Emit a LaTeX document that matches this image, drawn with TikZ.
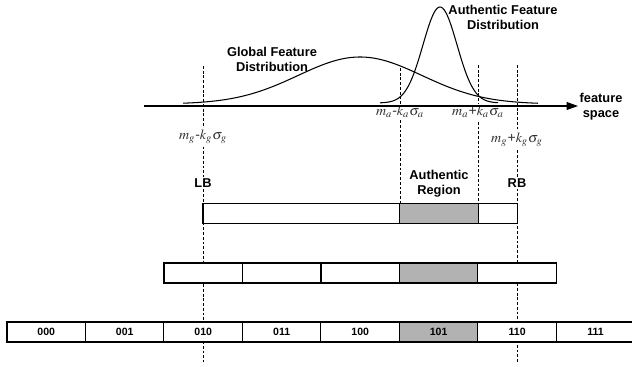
\documentclass[tikz,border=0pt]{standalone}
\usepackage{mathptmx}
\usepackage{fontspec}
\setmainfont{Liberation Sans}
\usetikzlibrary{positioning,arrows.meta}
\tikzset{
    cell/.style={
        rectangle, draw, line width=0.6pt,
        minimum width=1.57cm, minimum height=0.4cm,
        inner sep=0pt, outer sep=0pt, fill=white,
        font=\bfseries\fontsize{6}{7}\selectfont
    },
    auth/.style={
        cell, fill=black!30
    },
    lbl/.style={
        align=center, inner sep=1pt,
        font=\bfseries\fontsize{7.3}{8.5}\selectfont
    },
    bound/.style={
        fill=white, inner sep=1pt, text=black!80,
        font=\fontsize{8}{9}\selectfont
    },
    guide/.style={
        line width=0.5pt, dash pattern=on 1.6pt off 1.1pt
    }
}

\begin{document}
\begin{tikzpicture}[x=0.02cm, y=-0.02cm]
    \useasboundingbox (0,0) rectangle (632,366);

        % Guide lines
        \coordinate (lbtop) at (203,66);
        \coordinate (lbbot) at (203,362);
        \coordinate (altop) at (400,68);
        \coordinate (albot) at (400,204);
        \coordinate (artop) at (478,65);
        \coordinate (arbot) at (478,204);
        \coordinate (rbtop) at (517,65);
        \coordinate (rbbot) at (517,362);
        \draw[guide] (lbtop) -- (lbbot);
        \draw[guide] (altop) -- (albot);
        \draw[guide] (artop) -- (arbot);
        \draw[guide] (rbtop) -- (rbbot);

        % Bounds
        \node[bound] (mgl) at (203,137) {$m_g\mbox{-}k_g\sigma_g$};
        \node[bound] (mal) at (400,112) {$m_a\mbox{-}k_a\sigma_a$};
        \node[bound] (mar) at (478,112) {$m_a\mbox{+}k_a\sigma_a$};
        \node[bound] (mgr) at (517,140) {$m_g\mbox{+}k_g\sigma_g$};
        \node[lbl, fill=white] (lb) at (203,183) {LB};
        \node[lbl, fill=white] (rb) at (517,183) {RB};
        \node[lbl] (areg) at (439,184) {Authentic\\Region};

        % Feature axis
        \coordinate (axstart) at (144,106);
        \coordinate (axend) at (578,106);
        \draw[line width=0.6pt, -{Triangle[length=6.5pt,width=4.5pt]}]
            (axstart) -- (axend);
        \node[lbl] (fspace) at (601,107) {feature\\space};

        % Distributions
        \draw[line width=0.6pt] plot[domain=183:538, samples=100, smooth]
            (\x, {104-47*exp(-0.5*((\x-360)/62)^2)});
        \draw[line width=0.6pt] plot[domain=380:498, samples=80, smooth]
            (\x, {103-96*exp(-0.5*((\x-440)/17)^2)});
        \node[lbl] (glbl) at (272,59) {Global Feature\\Distribution};
        \node[lbl] (albl) at (503,17) {Authentic Feature\\Distribution};

        % Region between bounds
        \node[cell, minimum width=3.94cm, anchor=west] (t1) at (203,213.5) {};
        \node[auth, right=0pt of t1] (t2) {};
        \node[cell, minimum width=0.78cm, right=0pt of t2] (t3) {};

        % Two-bit cells
        \node[cell, anchor=west] (m1) at (164,273) {};
        \node[cell, right=0pt of m1] (m2) {};
        \node[cell, right=0pt of m2] (m3) {};
        \node[auth, right=0pt of m3] (m4) {};
        \node[cell, right=0pt of m4] (m5) {};

        % Three-bit cells
        \node[cell, anchor=west] (b000) at (7,332) {000};
        \node[cell, right=0pt of b000] (b001) {001};
        \node[cell, right=0pt of b001] (b010) {010};
        \node[cell, right=0pt of b010] (b011) {011};
        \node[cell, right=0pt of b011] (b100) {100};
        \node[auth, right=0pt of b100] (b101) {101};
        \node[cell, right=0pt of b101] (b110) {110};
        \node[cell, right=0pt of b110] (b111) {111};

    \end{tikzpicture}
\end{document}
